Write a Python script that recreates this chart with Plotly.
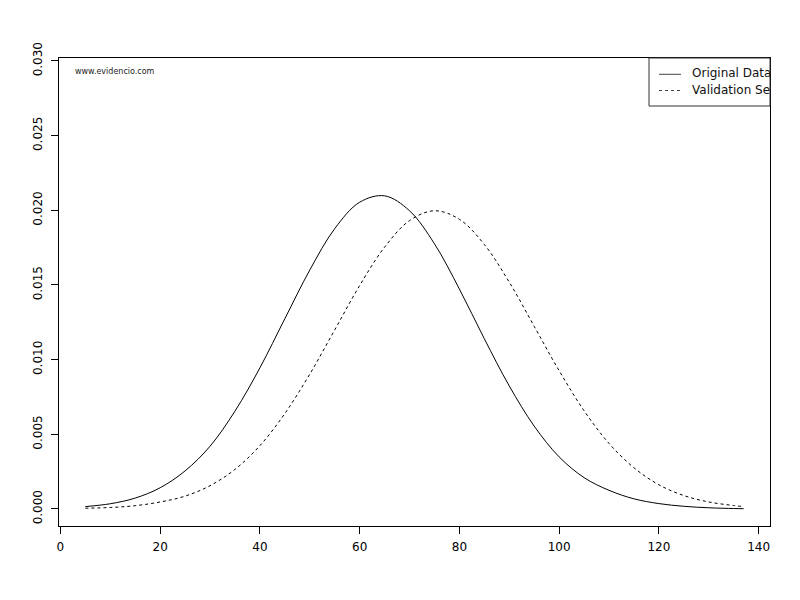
import plotly.graph_objects as go

# ---- data ----
x_vals = [5, 10, 15, 20, 25, 30, 35, 40, 45, 50, 55, 60, 65, 70, 75, 80, 85,
          90, 95, 100, 105, 110, 115, 120, 125, 130, 135, 137]
original_data = [0.00016, 0.00035, 0.00073, 0.00142, 0.00255, 0.00420, 0.00655,
                 0.00945, 0.01274, 0.01600, 0.01877, 0.02054, 0.02097,
                 0.01997, 0.01776, 0.01473, 0.01140, 0.00824, 0.00555, 0.00349,
                 0.00210, 0.00125, 0.00068, 0.00036, 0.00018, 0.00008, 0.00003,
                 0.00002]
validation_set = [0.00005, 0.00010, 0.00022, 0.00047, 0.00086, 0.00156, 0.00265,
                  0.00424, 0.00639, 0.00903, 0.01199, 0.01496, 0.01753,
                  0.01931, 0.01997, 0.01940, 0.01771, 0.01519, 0.01223, 0.00926,
                  0.00658, 0.00439, 0.00276, 0.00162, 0.00090, 0.00047, 0.00023,
                  0.00016]
series_names = ["Original Data", "Validation Set"]
x_ticks = [0, 20, 40, 60, 80, 100, 120, 140]
y_ticks = [0.000, 0.005, 0.010, 0.015, 0.020, 0.025, 0.030]

# ---- layout constants (pixels, in screenshot coordinates) ----
OFF = 8                     # page body margin
W, H = 800 - OFF, 600 - OFF
L, R, T, B = 59, 770, 58, 526
X_RANGE = [-0.28, 142.28]
Y_RANGE = [-0.00114, 0.0302]
FONT = "DejaVu Sans"


def px2x(px):
    return X_RANGE[0] + (px - L) / (R - L) * (X_RANGE[1] - X_RANGE[0])


def py2y(py):
    return Y_RANGE[1] - (py - T) / (B - T) * (Y_RANGE[1] - Y_RANGE[0])


def pxp(px):
    return (px - L) / (R - L)


def pyp(py):
    return (B - py) / (B - T)


fig = go.Figure()
fig.add_trace(go.Scatter(x=x_vals, y=original_data, mode="lines", name=series_names[0],
                         line=dict(color="black", width=1, shape="spline", smoothing=1.0),
                         showlegend=False))
fig.add_trace(go.Scatter(x=x_vals, y=validation_set, mode="lines", name=series_names[1],
                         line=dict(color="black", width=1, shape="spline", smoothing=1.0,
                                   dash="3px,3px"),
                         showlegend=False))

# legend text clipped at the plot box (as in the reference)
leg_rows = [74.3, 90.5]
fig.add_trace(go.Scatter(x=[px2x(692)] * 2, y=[py2y(r) for r in leg_rows],
                         text=series_names, mode="text", textposition="middle right",
                         textfont=dict(family=FONT, size=12, color="#111"),
                         cliponaxis=True, hoverinfo="skip", showlegend=False))

shapes = [
    # legend box
    dict(type="rect", xref="paper", yref="paper", x0=pxp(649), x1=1, y0=pyp(106), y1=1,
         line=dict(color="#333", width=1), fillcolor="rgba(0,0,0,0)"),
    dict(type="line", xref="paper", yref="paper", x0=pxp(659), x1=pxp(681),
         y0=pyp(leg_rows[0]), y1=pyp(leg_rows[0]), line=dict(color="#444", width=1)),
    dict(type="line", xref="paper", yref="paper", x0=pxp(659), x1=pxp(681),
         y0=pyp(leg_rows[1]), y1=pyp(leg_rows[1]),
         line=dict(color="#444", width=1, dash="3px,3px")),
]

fig.update_layout(
    width=W, height=H,
    margin=dict(l=L - OFF, r=800 - R, t=T - OFF, b=600 - B, pad=0),
    paper_bgcolor="white", plot_bgcolor="white",
    font=dict(family=FONT, size=12, color="black"),
    shapes=shapes,
    annotations=[dict(text="www.evidencio.com", xref="paper", yref="paper",
                      x=pxp(73), y=pyp(71), xanchor="left", yanchor="middle",
                      showarrow=False, font=dict(family=FONT, size=8, color="#222"))],
    xaxis=dict(range=X_RANGE, tickvals=x_ticks, ticks="outside", ticklen=7,
               tickwidth=1, tickcolor="black", showline=True, mirror=True,
               linecolor="black", linewidth=1, showgrid=False, zeroline=False,
               ticklabelstandoff=3,
               tickfont=dict(family=FONT, size=12, color="black")),
    yaxis=dict(range=Y_RANGE, tickvals=y_ticks, tickformat=".3f", tickangle=-90,
               ticks="outside", ticklen=7, tickwidth=1, tickcolor="black",
               showline=True, mirror=True, linecolor="black", linewidth=1,
               showgrid=False, zeroline=False, ticklabelstandoff=4,
               tickfont=dict(family=FONT, size=12, color="black")),
)

fig.write_html("out.html")
